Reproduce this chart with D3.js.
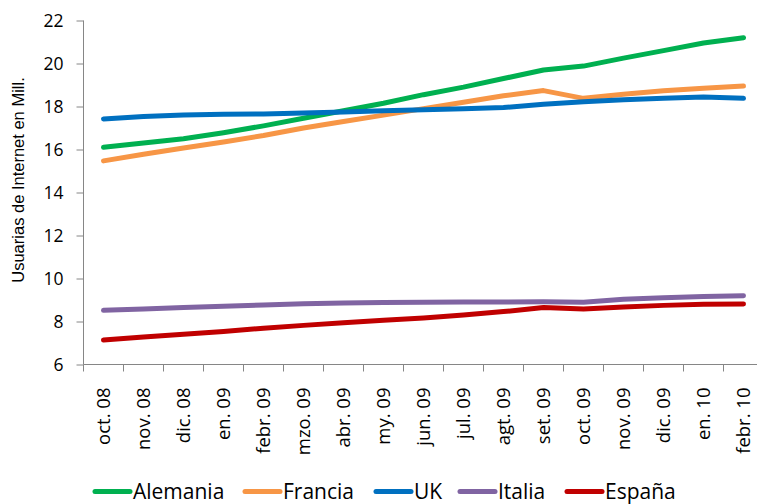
<!DOCTYPE html>
<html>
<head>
<meta charset="utf-8">
<script src="https://cdn.jsdelivr.net/npm/d3@7"></script>
<style>
    body { margin: 0; background: #fff; }
    svg { display: block; font-family: "Open Sans", sans-serif; }
    .axis path, .axis line { stroke: #868686; }
</style>
</head>
<body>
<svg id="chart" width="757" height="504"></svg>
<script>
// months shown on the category axis
const months = ["oct. 08", "nov. 08", "dic. 08", "en. 09", "febr. 09", "mzo. 09", "abr. 09",
    "my. 09", "jun. 09", "jul. 09", "agt. 09", "set. 09", "oct. 09", "nov. 09", "dic. 09",
    "en. 10", "febr. 10"];

// users in millions
const alemania = [16.1, 16.3, 16.5, 16.78, 17.1, 17.45, 17.8, 18.15, 18.55, 18.9, 19.3, 19.7, 19.88, 20.25, 20.6, 20.95, 21.2];
const francia  = [15.47, 15.78, 16.07, 16.35, 16.65, 17.0, 17.3, 17.6, 17.9, 18.2, 18.5, 18.74, 18.38, 18.57, 18.73, 18.85, 18.95];
const uk       = [17.42, 17.53, 17.6, 17.64, 17.65, 17.7, 17.74, 17.8, 17.85, 17.9, 17.95, 18.1, 18.22, 18.31, 18.38, 18.44, 18.38];
const italia   = [8.52, 8.58, 8.65, 8.71, 8.77, 8.82, 8.86, 8.88, 8.9, 8.91, 8.91, 8.92, 8.9, 9.04, 9.1, 9.16, 9.2];
const espana   = [7.14, 7.28, 7.41, 7.53, 7.69, 7.82, 7.94, 8.06, 8.16, 8.3, 8.46, 8.65, 8.58, 8.68, 8.75, 8.8, 8.81];

const seriesNames  = ["Alemania", "Francia", "UK", "Italia", "España"];
const seriesValues = [alemania, francia, uk, italia, espana];
const seriesColors = ["#00b050", "#f79646", "#0070c0", "#8064a2", "#c00000"];

const yTicks = [6, 8, 10, 12, 14, 16, 18, 20, 22];

const svg = d3.select("#chart");

const x = d3.scaleBand()
    .domain(months)
    .range([83.5, 763.5]);

const y = d3.scaleLinear()
    .domain([6, 22])
    .range([364.5, 20.5]);

// y axis
const yAxis = svg.append("g")
    .attr("class", "axis")
    .attr("transform", "translate(83.5,0)")
    .call(d3.axisLeft(y).tickValues(yTicks).tickSize(7).tickPadding(13));
yAxis.select(".domain").attr("d", "M0," + y(22) + "V" + y(6));
yAxis.selectAll("text")
    .attr("fill", "#000")
    .style("font-family", "'Open Sans', sans-serif")
    .style("font-size", "17.5px");

// x axis: ticks sit between the categories
const xAxis = svg.append("g")
    .attr("class", "axis")
    .attr("transform", "translate(0," + y(6) + ")");
xAxis.append("line")
    .attr("x1", x.range()[0])
    .attr("x2", x.range()[1])
    .attr("stroke", "#868686");
xAxis.selectAll("line.tick")
    .data(months.map(m => x(m)).concat([x.range()[1]]))
    .enter()
    .append("line")
    .attr("class", "tick")
    .attr("x1", d => d)
    .attr("x2", d => d)
    .attr("y1", 0)
    .attr("y2", 7)
    .attr("stroke", "#868686");
xAxis.selectAll("text")
    .data(months)
    .enter()
    .append("text")
    .attr("transform", d => "translate(" + (x(d) + x.bandwidth() / 2) + ",23) rotate(-90)")
    .attr("dy", "0.35em")
    .attr("text-anchor", "end")
    .style("font-size", "18.5px")
    .text(d => d);

// axis title
svg.append("text")
    .attr("transform", "translate(18.5,180) rotate(-90)")
    .attr("dy", "0.35em")
    .attr("text-anchor", "middle")
    .style("font-family", "'Liberation Sans', Arial, sans-serif")
    .style("font-size", "16.5px")
    .text("Usuarias de Internet en Mill.");

// series lines
const line = d3.line()
    .x((d, i) => x(months[i]) + x.bandwidth() / 2)
    .y(d => y(d));

svg.append("g")
    .selectAll("path")
    .data(seriesValues)
    .enter()
    .append("path")
    .attr("d", d => line(d))
    .attr("fill", "none")
    .attr("stroke", (d, i) => seriesColors[i])
    .attr("stroke-width", 5)
    .attr("stroke-linecap", "round")
    .attr("stroke-linejoin", "round");

// legend
const legendX = [95, 245, 376, 460, 567];
const legend = svg.append("g")
    .selectAll("g")
    .data(seriesNames)
    .enter()
    .append("g")
    .attr("transform", (d, i) => "translate(" + legendX[i] + ",491.5)");
legend.append("line")
    .attr("x1", 0)
    .attr("x2", 35)
    .attr("stroke", (d, i) => seriesColors[i])
    .attr("stroke-width", 5)
    .attr("stroke-linecap", "round");
legend.append("text")
    .attr("x", 38)
    .attr("y", 7)
    .style("font-size", "21px")
    .text(d => d);
</script>
</body>
</html>
